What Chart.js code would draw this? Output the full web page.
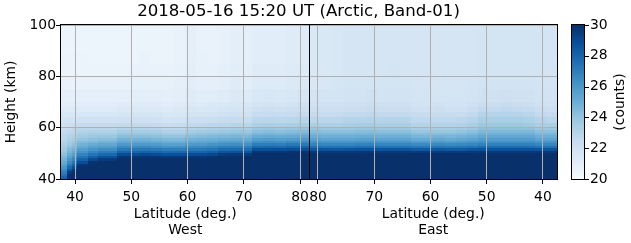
<!DOCTYPE html>
<html>
<head>
<meta charset="utf-8">
<script src="https://cdn.jsdelivr.net/npm/chart.js@4/dist/chart.umd.min.js"></script>
<style>
  html, body { margin: 0; padding: 0; background: #fff; }
  canvas { display: block; }
</style>
</head>
<body>
<canvas id="heatChart" width="631" height="243"></canvas>
<script>
// height bin edges (km), 31 rows
var heightEdges = [40, 41, 42, 43, 44, 45, 46, 47, 48, 49, 50, 51, 52, 53, 54, 55, 56, 57, 58, 59, 60,
                   62, 64, 66, 68, 70, 75, 80, 85, 90, 95, 100];

// latitude bin edges, west leg goes north, east leg comes back south
var westLatEdges = [37.5, 38.5, 39.5, 40.4, 42.3, 44.1, 47.5, 49.5, 51.5, 53.5, 55.5, 57.5, 59.5,
                    61.5, 63.5, 65.5, 67.5, 69.5, 71.5, 73.5, 75.5, 77.5, 79.5, 81.6];
var eastLatEdges = [81.6, 79.5, 77.5, 75.5, 73.5, 71.5, 69.5, 67.5, 65.5, 63.5, 61.5, 59.5, 57.5,
                    55.5, 53.5, 51.5, 49.5, 47.5, 45.5, 43.5, 41.5, 39.5, 37.5];

// counts per column, bottom (40 km) to top (100 km)
var westCounts = [
  [28.0,27.5,27.0,26.5,26.0,25.6,25.2,24.8,24.5,24.2,23.9,23.7,23.5,23.3,23.1,22.9,22.8,22.6,22.5,22.3,22.1,21.8,21.5,21.3,21.1,20.9,20.7,20.6,20.6,20.5,20.5],
  [30,30,29.6,28.6,27.8,27.1,26.5,26.0,25.5,25.1,24.7,24.4,24.1,23.8,23.5,23.3,23.1,22.9,22.7,22.5,22.2,21.9,21.6,21.3,21.1,20.9,20.7,20.6,20.6,20.5,20.5],
  [30,30,30,29.7,28.8,28.0,27.3,26.7,26.1,25.6,25.2,24.8,24.4,24.1,23.8,23.5,23.3,23.1,22.9,22.7,22.3,21.9,21.6,21.3,21.1,20.9,20.7,20.6,20.6,20.5,20.5],
  [30,30,30,30,30,29.8,28.9,28.1,27.4,26.8,26.2,25.7,25.2,24.8,24.4,24.0,23.7,23.4,23.1,22.9,22.5,22.0,21.6,21.3,21.1,20.9,20.7,20.6,20.6,20.5,20.5],
  [30,30,30,30,30,30,29.9,29.0,28.1,27.4,26.7,26.1,25.6,25.1,24.6,24.2,23.8,23.5,23.2,22.9,22.5,22.0,21.6,21.3,21.1,20.9,20.7,20.6,20.5,20.5,20.5],
  [30,30,30,30,30,30,30,29.6,28.7,27.8,27.1,26.4,25.8,25.3,24.8,24.3,23.9,23.5,23.2,22.9,22.5,22.0,21.6,21.3,21.1,20.9,20.7,20.6,20.5,20.5,20.5],
  [30,30,30,30,30,30,30,30,29.8,28.9,28.0,27.2,26.5,25.9,25.3,24.8,24.3,23.9,23.5,23.1,22.6,22.1,21.7,21.4,21.2,20.9,20.7,20.6,20.5,20.5,20.5],
  [30,30,30,30,30,30,30,30,29.8,28.9,28.0,27.2,26.5,25.9,25.3,24.8,24.3,23.9,23.5,23.1,22.6,22.1,21.7,21.4,21.2,21.0,20.8,20.7,20.6,20.6,20.6],
  [30,30,30,30,30,30,30,30,29.9,29.0,28.1,27.3,26.6,25.9,25.3,24.8,24.3,23.9,23.5,23.1,22.6,22.1,21.7,21.4,21.2,21.0,20.8,20.7,20.7,20.6,20.6],
  [30,30,30,30,30,30,30,30,29.8,28.9,28.0,27.2,26.4,25.8,25.2,24.7,24.2,23.8,23.4,23.0,22.5,22.0,21.7,21.4,21.2,21.0,20.8,20.7,20.6,20.6,20.6],
  [30,30,30,30,30,30,30,30,29.7,28.7,27.8,27.0,26.2,25.6,25.0,24.5,24.0,23.6,23.2,22.8,22.3,21.9,21.5,21.3,21.1,20.9,20.8,20.7,20.6,20.6,20.6],
  [30,30,30,30,30,30,30,30,29.7,28.7,27.8,27.0,26.3,25.6,25.0,24.5,24.0,23.6,23.2,22.8,22.4,21.9,21.6,21.4,21.2,21.0,20.9,20.8,20.7,20.7,20.7],
  [30,30,30,30,30,30,30,30,29.8,28.9,28.0,27.2,26.5,25.9,25.3,24.8,24.3,23.9,23.5,23.1,22.6,22.2,21.8,21.6,21.4,21.2,21.1,21.0,20.9,20.9,20.9],
  [30,30,30,30,30,30,30,30,29.8,28.9,28.0,27.2,26.5,25.9,25.4,24.9,24.4,24.0,23.6,23.2,22.7,22.2,21.8,21.5,21.3,21.1,20.9,20.8,20.8,20.7,20.7],
  [30,30,30,30,30,30,30,30,29.9,29.1,28.2,27.4,26.7,26.1,25.5,25.0,24.5,24.1,23.7,23.3,22.8,22.3,21.9,21.6,21.4,21.1,20.9,20.8,20.7,20.7,20.7],
  [30,30,30,30,30,30,30,30,30,29.6,28.6,27.7,27.0,26.3,25.7,25.1,24.6,24.2,23.8,23.4,22.9,22.4,22.0,21.7,21.5,21.2,21.0,20.9,20.8,20.8,20.8],
  [30,30,30,30,30,30,30,30,30,29.7,28.7,27.8,27.1,26.4,25.8,25.2,24.7,24.3,23.9,23.5,23.0,22.5,22.1,21.8,21.6,21.4,21.2,21.1,21.0,21.0,21.0],
  [30,30,30,30,30,30,30,30,30,29.6,28.6,27.7,27.0,26.3,25.7,25.1,24.6,24.2,23.8,23.4,22.9,22.4,22.0,21.8,21.6,21.3,21.1,21.0,20.9,20.9,20.9],
  [30,30,30,30,30,30,30,30,30,30,29.8,28.8,27.8,27.0,26.3,25.7,25.1,24.6,24.2,23.8,23.3,22.8,22.4,22.1,21.8,21.5,21.3,21.2,21.1,21.1,21.1],
  [30,30,30,30,30,30,30,30,30,30,29.8,28.8,27.9,27.1,26.4,25.8,25.2,24.7,24.3,23.9,23.4,22.9,22.5,22.2,21.9,21.6,21.3,21.2,21.1,21.1,21.1],
  [30,30,30,30,30,30,30,30,30,30,29.8,28.8,27.8,27.0,26.3,25.7,25.1,24.6,24.2,23.8,23.3,22.8,22.4,22.1,21.8,21.5,21.3,21.2,21.1,21.1,21.1],
  [30,30,30,30,30,30,30,30,30,30,29.9,28.9,28.0,27.2,26.5,25.8,25.2,24.7,24.3,23.9,23.4,22.9,22.5,22.2,21.9,21.6,21.4,21.3,21.2,21.2,21.2],
  [30,30,30,30,30,30,30,30,30,30,29.9,28.9,28.0,27.2,26.5,25.9,25.3,24.8,24.4,24.0,23.5,23.0,22.6,22.3,22.0,21.7,21.4,21.3,21.2,21.2,21.2]
];

var eastCounts = [
  [30,30,30,30,30,30,30,30,30,30,29.7,28.6,27.6,26.8,26.2,25.6,25.1,24.7,24.3,23.9,23.4,22.9,22.5,22.2,22.0,21.8,21.6,21.5,21.5,21.5,21.5],
  [30,30,30,30,30,30,30,30,30,30,29.7,28.6,27.5,26.7,26.1,25.5,25.0,24.6,24.2,23.8,23.3,22.9,22.5,22.2,22.0,21.8,21.6,21.5,21.5,21.5,21.5],
  [30,30,30,30,30,30,30,30,30,30,29.7,28.5,27.5,26.7,26.1,25.5,25.0,24.6,24.2,23.8,23.3,22.9,22.5,22.2,22.0,21.8,21.7,21.6,21.6,21.6,21.6],
  [30,30,30,30,30,30,30,30,30,30,29.7,28.6,27.5,26.7,26.1,25.5,25.0,24.6,24.2,23.8,23.4,23.0,22.6,22.3,22.1,21.9,21.8,21.7,21.7,21.7,21.7],
  [30,30,30,30,30,30,30,30,30,30,29.7,28.7,27.6,26.8,26.2,25.6,25.1,24.7,24.3,23.9,23.5,23.0,22.6,22.3,22.1,21.9,21.8,21.7,21.7,21.7,21.7],
  [30,30,30,30,30,30,30,30,30,30,29.8,28.7,27.6,26.8,26.2,25.6,25.1,24.7,24.3,23.9,23.5,23.1,22.7,22.4,22.2,22.0,21.8,21.7,21.7,21.7,21.7],
  [30,30,30,30,30,30,30,30,30,30,29.7,28.6,27.5,26.7,26.1,25.5,25.0,24.6,24.2,23.8,23.4,23.0,22.6,22.3,22.1,21.9,21.8,21.7,21.7,21.7,21.7],
  [30,30,30,30,30,30,30,30,30,30,29.7,28.6,27.5,26.7,26.1,25.5,25.0,24.6,24.2,23.8,23.4,23.0,22.6,22.3,22.1,21.9,21.8,21.8,21.7,21.7,21.7],
  [30,30,30,30,30,30,30,30,30,30,29.7,28.6,27.5,26.7,26.1,25.5,25.0,24.6,24.2,23.8,23.4,23.0,22.6,22.3,22.1,21.9,21.8,21.7,21.7,21.7,21.7],
  [30,30,30,30,30,30,30,30,30,30,29.6,28.4,27.3,26.5,25.8,25.2,24.7,24.3,23.9,23.5,23.1,22.7,22.4,22.1,21.9,21.8,21.7,21.7,21.7,21.7,21.7],
  [30,30,30,30,30,30,30,30,30,30,29.6,28.4,27.3,26.5,25.8,25.2,24.7,24.3,23.9,23.5,23.1,22.7,22.4,22.1,21.9,21.8,21.7,21.7,21.7,21.7,21.7],
  [30,30,30,30,30,30,30,30,30,30,29.6,28.5,27.4,26.6,25.9,25.3,24.8,24.3,23.9,23.5,23.1,22.7,22.4,22.2,22.0,21.8,21.7,21.7,21.7,21.7,21.7],
  [30,30,30,30,30,30,30,30,30,30,29.6,28.4,27.3,26.5,25.8,25.2,24.7,24.3,23.9,23.5,23.1,22.7,22.4,22.1,21.9,21.8,21.7,21.7,21.7,21.7,21.7],
  [30,30,30,30,30,30,30,30,30,30,29.6,28.4,27.4,26.6,25.9,25.3,24.8,24.4,24.0,23.6,23.2,22.8,22.4,22.1,21.9,21.8,21.7,21.7,21.7,21.7,21.7],
  [30,30,30,30,30,30,30,30,30,30,29.7,28.6,27.5,26.7,26.1,25.5,25.0,24.6,24.2,23.8,23.4,23.0,22.6,22.3,22.1,21.9,21.8,21.7,21.7,21.7,21.7],
  [30,30,30,30,30,30,30,30,30,30,29.7,28.7,27.7,26.9,26.3,25.8,25.3,24.9,24.5,24.2,23.8,23.4,23.0,22.6,22.3,22.0,21.9,21.8,21.8,21.8,21.8],
  [30,30,30,30,30,30,30,30,30,30,29.7,28.7,27.7,26.9,26.3,25.8,25.3,24.9,24.5,24.2,23.8,23.4,23.0,22.6,22.3,22.0,21.9,21.8,21.8,21.8,21.8],
  [30,30,30,30,30,30,30,30,30,30,29.7,28.7,27.7,26.9,26.3,25.8,25.3,24.9,24.5,24.2,23.8,23.4,23.0,22.7,22.4,22.1,21.9,21.8,21.8,21.8,21.8],
  [30,30,30,30,30,30,30,30,30,30,29.7,28.7,27.7,26.9,26.3,25.8,25.3,24.9,24.5,24.2,23.8,23.4,23.0,22.6,22.3,22.0,21.9,21.8,21.8,21.8,21.8],
  [30,30,30,30,30,30,30,30,30,30,29.7,28.7,27.7,26.9,26.3,25.8,25.3,24.9,24.5,24.1,23.7,23.3,22.9,22.5,22.2,22.0,21.9,21.8,21.8,21.8,21.8],
  [30,30,30,30,30,30,30,30,30,30,29.7,28.6,27.5,26.7,26.1,25.5,25.0,24.6,24.2,23.8,23.4,23.0,22.6,22.3,22.1,21.9,21.8,21.8,21.8,21.8,21.8],
  [30,30,30,30,30,30,30,30,30,30,29.7,28.6,27.5,26.7,26.1,25.5,25.0,24.6,24.2,23.8,23.4,22.9,22.5,22.2,22.0,21.9,21.8,21.8,21.8,21.8,21.8]
];

var latTicks = [40, 50, 60, 70, 80];
var heightTicks = [40, 60, 80, 100];
var colorTicks = [20, 22, 24, 26, 28, 30];
var countMin = 20, countMax = 30;

// matplotlib "Blues"
var blues = ['#f7fbff', '#deebf7', '#c6dbef', '#9ecae1', '#6baed6', '#4292c6', '#2171b5', '#08519c', '#08306b'];

var latMin = westLatEdges[0];
var latTurn = westLatEdges[westLatEdges.length - 1];
var legSpan = latTurn - latMin;

// position along the track: west leg then east leg
function westPos(lat) { return lat - latMin; }
function eastPos(lat) { return legSpan + (latTurn - lat); }

function hexRgb(h) {
  return [parseInt(h.slice(1, 3), 16), parseInt(h.slice(3, 5), 16), parseInt(h.slice(5, 7), 16)];
}
var bluesRgb = blues.map(hexRgb);

function countColor(v) {
  var f = (v - countMin) / (countMax - countMin);
  f = Math.max(0, Math.min(1, f)) * (bluesRgb.length - 1);
  var i = Math.min(Math.floor(f), bluesRgb.length - 2);
  var t = f - i;
  var a = bluesRgb[i], b = bluesRgb[i + 1];
  return 'rgb(' + Math.round(a[0] + (b[0] - a[0]) * t) + ',' +
    Math.round(a[1] + (b[1] - a[1]) * t) + ',' +
    Math.round(a[2] + (b[2] - a[2]) * t) + ')';
}

// cells for the dataset
var cells = [];
function addCells(edges, counts, pos) {
  counts.forEach(function(col, j) {
    var xa = pos(edges[j]), xb = pos(edges[j + 1]);
    col.forEach(function(v, i) {
      cells.push({
        x: (xa + xb) / 2, y: (heightEdges[i] + heightEdges[i + 1]) / 2,
        x0: Math.min(xa, xb), x1: Math.max(xa, xb),
        y0: heightEdges[i], y1: heightEdges[i + 1], v: v
      });
    });
  });
}
addCells(westLatEdges, westCounts, westPos);
addCells(eastLatEdges, eastCounts, eastPos);

var xTickValues = latTicks.map(westPos).concat(latTicks.slice().reverse().map(eastPos));
var xTickLabels = latTicks.map(String).concat(latTicks.slice().reverse().map(String));

var FONT = 'DejaVu Sans';
var FS = 13.9;

var heatmapPlugin = {
  id: 'heatmap',
  beforeDraw: function(chart) {
    var ctx = chart.ctx, x = chart.scales.x, y = chart.scales.y;
    chart.data.datasets[0].data.forEach(function(c) {
      var l = Math.round(x.getPixelForValue(c.x0)), r = Math.round(x.getPixelForValue(c.x1));
      var t = Math.round(y.getPixelForValue(c.y1)), b = Math.round(y.getPixelForValue(c.y0));
      ctx.fillStyle = countColor(c.v);
      ctx.fillRect(l, t, r - l, b - t);
    });
  },
  afterDraw: function(chart) {
    var ctx = chart.ctx, a = chart.chartArea, x = chart.scales.x;
    ctx.save();
    // turn point line and frame
    ctx.strokeStyle = '#000';
    ctx.lineWidth = 1;
    var mid = Math.round(x.getPixelForValue(legSpan)) + 0.5;
    ctx.beginPath();
    ctx.moveTo(mid, a.top);
    ctx.lineTo(mid, a.bottom);
    ctx.stroke();
    ctx.strokeRect(Math.round(a.left) - 0.5, Math.round(a.top) - 0.5,
      Math.round(a.right - a.left) + 1, Math.round(a.bottom - a.top) + 1);

    // texts
    ctx.fillStyle = '#000';
    ctx.textAlign = 'center';
    ctx.textBaseline = 'middle';
    ctx.font = '16.6px "' + FONT + '"';
    ctx.fillText('2018-05-16 15:20 UT (Arctic, Band-01)', 298.5, 12);
    ctx.font = FS + 'px "' + FONT + '"';
    var wc = (a.left + mid) / 2, ec = (mid + a.right) / 2;
    ctx.fillText('Latitude (deg.)', wc, 214);
    ctx.fillText('West', wc, 230);
    ctx.fillText('Latitude (deg.)', ec, 214);
    ctx.fillText('East', ec, 230);
    ctx.save();
    ctx.translate(11, (a.top + a.bottom) / 2);
    ctx.rotate(-Math.PI / 2);
    ctx.fillText('Height (km)', 0, 0);
    ctx.restore();

    // colorbar
    var cbL = 572, cbR = 584, top = Math.round(a.top), bot = Math.round(a.bottom);
    for (var py = top; py < bot; py++) {
      var v = countMax - (py + 0.5 - top) / (bot - top) * (countMax - countMin);
      ctx.fillStyle = countColor(v);
      ctx.fillRect(cbL, py, cbR - cbL, 1);
    }
    ctx.strokeStyle = '#000';
    ctx.strokeRect(cbL - 0.5, top - 0.5, cbR - cbL + 1, bot - top + 1);
    ctx.textAlign = 'left';
    ctx.fillStyle = '#000';
    colorTicks.forEach(function(t) {
      var ty = bot - (t - countMin) / (countMax - countMin) * (bot - top);
      ctx.beginPath();
      ctx.moveTo(cbR, Math.round(ty) + 0.5);
      ctx.lineTo(cbR + 5, Math.round(ty) + 0.5);
      ctx.stroke();
      ctx.fillText(String(t), cbR + 6, ty);
    });
    ctx.save();
    ctx.translate(620, (a.top + a.bottom) / 2);
    ctx.rotate(-Math.PI / 2);
    ctx.textAlign = 'center';
    ctx.fillText('(counts)', 0, 0);
    ctx.restore();
    ctx.restore();
  }
};

Chart.defaults.font.family = FONT;
Chart.defaults.font.size = FS;
Chart.defaults.color = '#000';

var ctx = document.getElementById('heatChart').getContext('2d');
var heatChart = new Chart(ctx, {
  type: 'scatter',
  data: {
    datasets: [{
      label: 'counts',
      data: cells,
      pointRadius: 0,
      pointHoverRadius: 0
    }]
  },
  options: {
    responsive: false,
    animation: false,
    devicePixelRatio: 1,
    events: [],
    layout: { padding: { top: 25, right: 74, left: 0, bottom: 0 } },
    plugins: { legend: { display: false }, tooltip: { enabled: false } },
    scales: {
      x: {
        type: 'linear',
        min: 0,
        max: legSpan * 2,
        afterBuildTicks: function(scale) {
          scale.ticks = xTickValues.map(function(v) { return { value: v }; });
        },
        afterFit: function(scale) { scale.height = 64; },
        ticks: {
          autoSkip: false,
          maxRotation: 0,
          padding: 5,
          callback: function(value, index) { return xTickLabels[index]; }
        },
        grid: { color: '#b0b0b0', lineWidth: 1, tickLength: 5, tickColor: '#000' },
        border: { display: false }
      },
      y: {
        type: 'linear',
        min: 40,
        max: 100,
        afterBuildTicks: function(scale) {
          scale.ticks = heightTicks.map(function(v) { return { value: v }; });
        },
        afterFit: function(scale) { scale.width = 61; },
        ticks: { padding: 0 },
        grid: { color: '#b0b0b0', lineWidth: 1, tickLength: 5, tickColor: '#000' },
        border: { display: false }
      }
    }
  },
  plugins: [heatmapPlugin]
});
</script>
</body>
</html>
